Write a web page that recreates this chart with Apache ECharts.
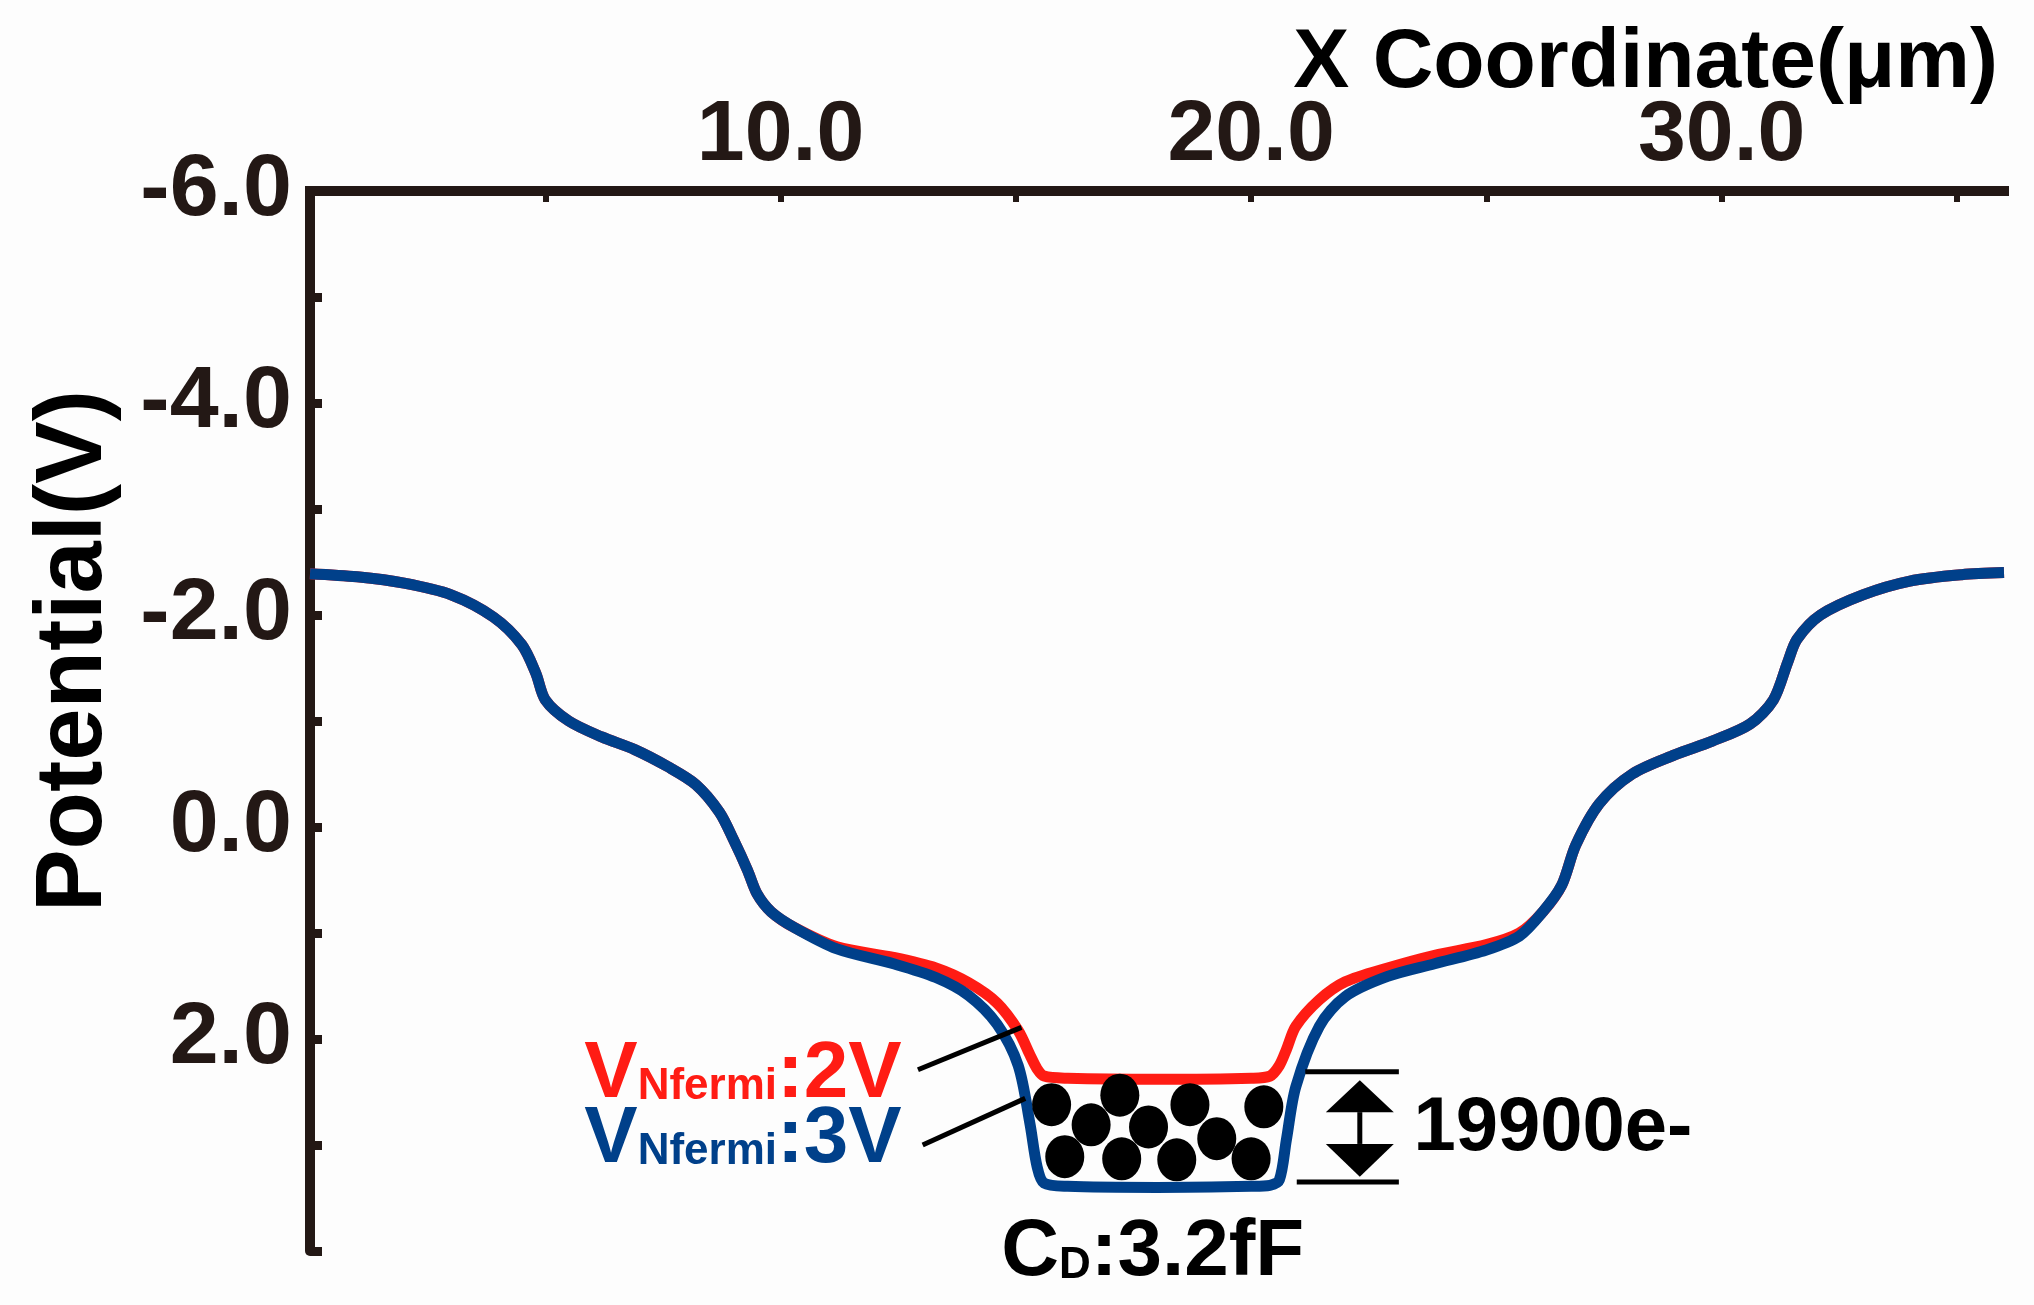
<!DOCTYPE html>
<html>
<head>
<meta charset="utf-8">
<title>Potential profile</title>
<script src="https://cdn.jsdelivr.net/npm/echarts@6/dist/echarts.min.js"></script>
<style>
  html, body { margin: 0; padding: 0; background: #fdfdfd; }
  #chart { width: 2034px; height: 1305px; }
</style>
</head>
<body>
<div id="chart"></div>
<script>
// position along the pixel (um)
const xCoord = [0, 1, 2, 3, 3.9, 4.5, 4.8, 5.0, 5.5, 6.2, 6.9, 7.6, 8.2, 8.7, 9.0, 9.3, 9.5, 9.8, 10.3, 11.2,
  12.4, 13.3, 14.0, 14.6, 15.05, 15.3, 15.45, 15.6, 16.1, 18, 20.0, 20.4, 20.6, 20.75, 20.95, 21.45, 22.0,
  22.9, 23.9, 25.0, 25.7, 26.2, 26.6, 26.9, 27.4, 28.1, 29.0, 29.8, 30.6, 31.1, 31.4, 31.6, 32.1, 33.0, 34.0, 35.1, 36];
// potential for VNfermi = 3V (blue)
const potential3V = [-2.39, -2.36, -2.30, -2.19, -1.98, -1.72, -1.45, -1.20, -1.00, -0.85, -0.73, -0.57, -0.40, -0.14,
  0.12, 0.41, 0.63, 0.80, 0.95, 1.15, 1.29, 1.42, 1.59, 1.86, 2.25, 2.80, 3.20, 3.36, 3.39, 3.40, 3.39, 3.38, 3.33,
  2.95, 2.45, 1.88, 1.60, 1.41, 1.29, 1.16, 1.03, 0.80, 0.55, 0.17, -0.22, -0.50, -0.68, -0.81, -0.97, -1.20, -1.55,
  -1.77, -2.00, -2.19, -2.32, -2.38, -2.40];
// potential for VNfermi = 2V (red)
const potential2V = [-2.39, -2.36, -2.30, -2.19, -1.98, -1.72, -1.45, -1.20, -1.00, -0.85, -0.73, -0.57, -0.40, -0.14,
  0.12, 0.41, 0.63, 0.80, 0.95, 1.13, 1.23, 1.33, 1.47, 1.66, 1.92, 2.15, 2.28, 2.35, 2.37, 2.38, 2.37, 2.35, 2.25,
  2.10, 1.88, 1.63, 1.46, 1.33, 1.21, 1.11, 1.00, 0.80, 0.55, 0.17, -0.22, -0.50, -0.68, -0.81, -0.97, -1.20, -1.55,
  -1.77, -2.00, -2.19, -2.32, -2.38, -2.40];
// stored electrons drawn in the well [x, potential]
const electrons = [[15.76, 2.62], [17.21, 2.53], [18.70, 2.62], [20.27, 2.64], [16.60, 2.81], [17.82, 2.83],
  [19.27, 2.94], [16.04, 3.11], [17.25, 3.13], [18.42, 3.14], [20.00, 3.13]];
const xTickLabels = [10, 20, 30];
const yTickLabels = [-6, -4, -2, 0, 2];

const FONT = '"Liberation Sans", Arial, Helvetica, sans-serif';
const INK = '#231815';
const BLUE = '#00408a';
const RED = '#ff1c14';

const chart = echarts.init(document.getElementById('chart'));

const option = {
  backgroundColor: '#fdfdfd',
  animation: false,
  grid: { left: 310, right: 30, top: 191, bottom: 54, containLabel: false, outerBoundsMode: 'none' },
  xAxis: {
    type: 'value',
    position: 'top',
    min: 0,
    max: 36,
    interval: 5,
    axisLine: { onZero: false, lineStyle: { color: INK, width: 10, cap: 'square' } },
    axisTick: { inside: true, length: 11, lineStyle: { color: INK, width: 6 } },
    axisLabel: {
      margin: 12, fontFamily: FONT, fontWeight: 'bold', fontSize: 86, color: INK,
      showMaxLabel: false,
      formatter: v => xTickLabels.includes(v) ? v.toFixed(1) : ''
    },
    splitLine: { show: false }
  },
  yAxis: {
    type: 'value',
    inverse: true,
    min: -6,
    max: 4,
    interval: 1,
    name: 'Potential(V)',
    nameLocation: 'middle',
    nameGap: 188,
    nameTextStyle: {
      fontFamily: FONT, fontWeight: 'bold', fontSize: 94, color: '#000',
      padding: [0, 0, 0, 140]
    },
    axisLine: { onZero: false, lineStyle: { color: INK, width: 10 } },
    axisTick: { inside: true, length: 12, lineStyle: { color: INK, width: 9 } },
    axisLabel: {
      margin: 18, fontFamily: FONT, fontWeight: 'bold', fontSize: 88, color: INK,
      formatter: v => yTickLabels.includes(v) ? v.toFixed(1) : ''
    },
    splitLine: { show: false }
  },
  series: [
    {
      name: 'VNfermi:2V',
      type: 'line',
      data: xCoord.map((x, i) => [x, potential2V[i]]),
      showSymbol: false,
      smooth: 0.3,
      lineStyle: { color: RED, width: 11 },
      z: 2
    },
    {
      name: 'VNfermi:3V',
      type: 'line',
      data: xCoord.map((x, i) => [x, potential3V[i]]),
      showSymbol: false,
      smooth: 0.3,
      lineStyle: { color: BLUE, width: 11 },
      z: 3
    },
    {
      name: 'electrons',
      type: 'scatter',
      data: electrons,
      symbol: 'circle',
      symbolSize: [39, 43],
      itemStyle: { color: '#000', opacity: 1 },
      z: 4
    }
  ]
};

chart.setOption(option);

// annotations placed in data coordinates
const px = p => chart.convertToPixel({ gridIndex: 0 }, p);
const richLabel = (color) => ({
  v: { fontFamily: FONT, fontWeight: 'bold', fontSize: 80, fill: color, verticalAlign: 'bottom', lineHeight: 92 },
  s: { fontFamily: FONT, fontWeight: 'bold', fontSize: 44, fill: color, verticalAlign: 'bottom', lineHeight: 92, padding: [0, 0, 6, 0] }
});

const redText = px([5.83, 2.72]);
const blueText = px([5.83, 3.33]);
const lead1 = [px([12.92, 2.29]), px([15.12, 1.89])];
const lead2 = [px([13.02, 3.00]), px([15.20, 2.56])];
const capTop = [px([21.15, 2.31]), px([23.14, 2.31])];
const capBot = [px([20.97, 3.35]), px([23.14, 3.35])];
const arrowX = px([22.31, 0])[0];
const arrowTop = px([0, 2.39])[1];
const arrowTopBase = px([0, 2.69])[1];
const arrowBot = px([0, 3.30])[1];
const arrowBotBase = px([0, 2.99])[1];
const numText = px([23.45, 2.85]);
const cdText = px([14.69, 4.40]);
const hw = 34;

chart.setOption({
  graphic: [
    // x axis title, right aligned above the tick labels
    { type: 'text', x: 1998, y: 64, z: 10,
      style: { text: 'X Coordinate(μm)', fill: '#000', fontFamily: FONT, fontWeight: 'bold', fontSize: 84,
        align: 'right', verticalAlign: 'middle' } },
    { type: 'text', x: redText[0], y: redText[1], z: 10,
      style: { text: '{v|V}{s|Nfermi}{v|:2V}', rich: richLabel(RED), align: 'left', verticalAlign: 'bottom' } },
    { type: 'text', x: blueText[0], y: blueText[1], z: 10,
      style: { text: '{v|V}{s|Nfermi}{v|:3V}', rich: richLabel(BLUE), align: 'left', verticalAlign: 'bottom' } },
    { type: 'line', z: 10, shape: { x1: lead1[0][0], y1: lead1[0][1], x2: lead1[1][0], y2: lead1[1][1] },
      style: { stroke: '#000', lineWidth: 5 } },
    { type: 'line', z: 10, shape: { x1: lead2[0][0], y1: lead2[0][1], x2: lead2[1][0], y2: lead2[1][1] },
      style: { stroke: '#000', lineWidth: 5 } },
    { type: 'line', z: 10, shape: { x1: capTop[0][0], y1: capTop[0][1], x2: capTop[1][0], y2: capTop[1][1] },
      style: { stroke: '#000', lineWidth: 5 } },
    { type: 'line', z: 10, shape: { x1: capBot[0][0], y1: capBot[0][1], x2: capBot[1][0], y2: capBot[1][1] },
      style: { stroke: '#000', lineWidth: 5 } },
    { type: 'line', z: 10, shape: { x1: arrowX, y1: arrowTopBase, x2: arrowX, y2: arrowBotBase },
      style: { stroke: '#000', lineWidth: 5 } },
    { type: 'polygon', z: 10,
      shape: { points: [[arrowX, arrowTop], [arrowX - hw, arrowTopBase], [arrowX + hw, arrowTopBase]] },
      style: { fill: '#000' } },
    { type: 'polygon', z: 10,
      shape: { points: [[arrowX, arrowBot], [arrowX - hw, arrowBotBase], [arrowX + hw, arrowBotBase]] },
      style: { fill: '#000' } },
    { type: 'text', x: numText[0], y: numText[1], z: 10,
      style: { text: '19900e-', fill: '#000', fontFamily: FONT, fontWeight: 'bold', fontSize: 76,
        align: 'left', verticalAlign: 'middle' } },
    { type: 'text', x: cdText[0], y: cdText[1], z: 10,
      style: { text: '{v|C}{s|D}{v|:3.2fF}', rich: richLabel('#000'), align: 'left', verticalAlign: 'bottom' } }
  ]
});
</script>
</body>
</html>
